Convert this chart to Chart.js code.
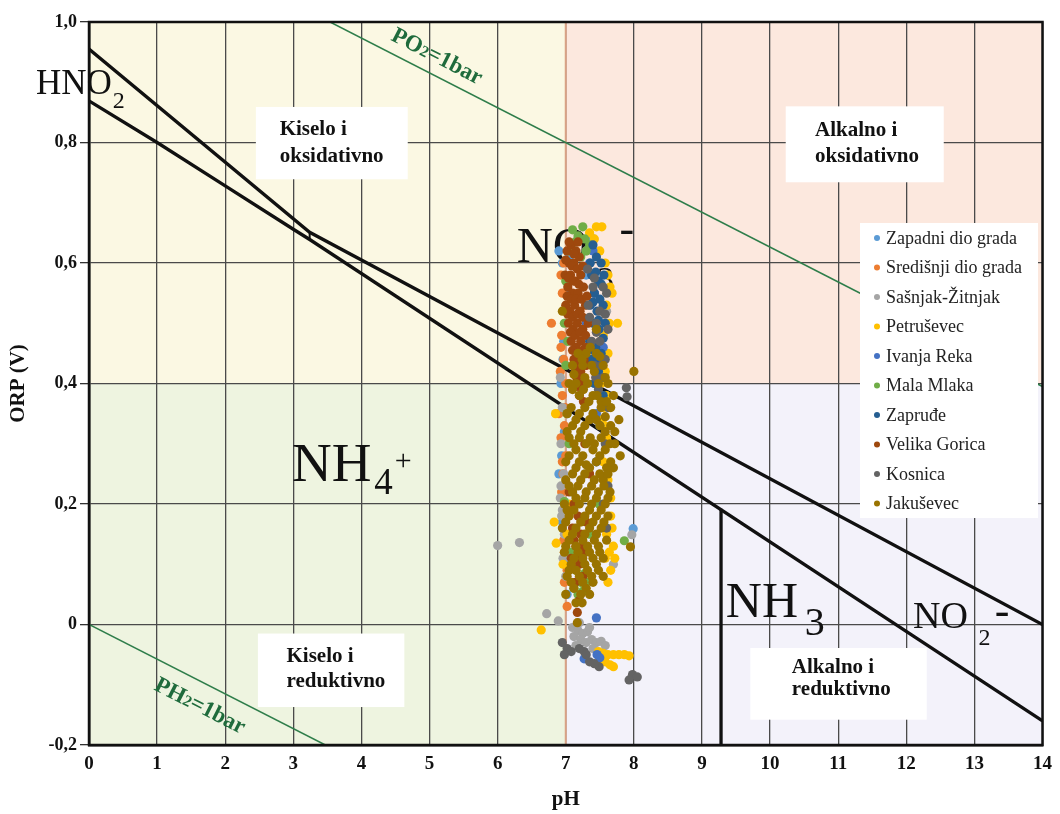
<!DOCTYPE html>
<html>
<head>
<meta charset="utf-8">
<script src="https://cdn.jsdelivr.net/npm/chart.js@4.4.0/dist/chart.umd.min.js"></script>
<style>
  body { margin: 0; background: #fff; }
  #wrap { width: 1060px; height: 814px; }
</style>
</head>
<body>
<div id="wrap"><canvas id="myChart"></canvas></div>
<script>
// series (legend order) and their colours
const seriesNames = ['Zapadni dio grada', 'Središnji dio grada', 'Sašnjak-Žitnjak', 'Petruševec', 'Ivanja Reka',
  'Mala Mlaka', 'Zapruđe', 'Velika Gorica', 'Kosnica', 'Jakuševec'];
const seriesColors = ['#5B9BD5', '#ED7D31', '#A5A5A5', '#FFC000', '#4472C4',
  '#70AD47', '#255E91', '#9E480E', '#636363', '#997300'];

// measured points, [pH, ORP in V]
const zapadni = [[6.90,0.62],[6.95,0.60],[7.00,0.55],[6.97,0.47],[6.93,0.40],[6.98,0.32],[6.90,0.25],
  [6.95,0.17],[7.99,0.159],[7.02,0.05],[7.30,0.58],[6.98,0.10],[6.96,0.44],[6.94,0.28],[7.05,0.61],
  [7.40,0.64]];
const sredisnji = [[6.97,0.60],[6.95,0.55],[7.00,0.52],[6.79,0.50],[6.93,0.46],[6.97,0.44],[6.92,0.42],
  [7.00,0.40],[6.95,0.38],[6.90,0.35],[6.98,0.33],[6.93,0.31],[7.00,0.28],[6.96,0.25],[6.94,0.22],
  [7.00,0.19],[6.97,0.14],[7.02,0.09],[6.98,0.07],[7.02,0.03],[7.05,0.57],[6.94,0.48],[6.99,0.36],
  [6.95,0.27],[6.98,0.12],[7.03,0.62],[6.93,0.58]];
const sasnjak = [[7.30,0.62],[7.25,0.56],[6.92,0.41],[6.95,0.36],[6.93,0.30],[6.97,0.25],[6.92,0.21],
  [6.94,0.18],[6.98,0.15],[6.96,0.11],[7.00,0.08],[6.00,0.131],[6.32,0.136],[6.72,0.018],[6.89,0.006],
  [7.97,0.149],[7.10,-0.005],[7.18,-0.01],[7.25,-0.015],[7.32,-0.012],[7.12,-0.02],[7.22,-0.025],
  [7.30,-0.03],[7.38,-0.025],[7.45,-0.03],[7.52,-0.028],[7.15,-0.035],[7.40,-0.04],[7.58,-0.035],
  [7.60,0.52],[7.70,0.10],[6.93,0.23],[6.95,0.19],[7.20,0.003],[7.35,-0.005]];
const petrusevec = [[7.45,0.66],[7.53,0.66],[7.35,0.65],[7.42,0.64],[7.50,0.62],[7.58,0.60],[7.62,0.58],
  [7.65,0.56],[7.60,0.53],[7.68,0.55],[7.76,0.50],[7.55,0.48],[7.62,0.45],[7.58,0.42],[7.52,0.40],
  [7.56,0.36],[7.50,0.34],[6.85,0.35],[7.60,0.31],[7.55,0.27],[7.62,0.24],[7.56,0.20],[7.66,0.18],
  [7.60,0.15],[7.70,0.13],[7.58,0.11],[7.66,0.09],[7.62,0.07],[6.83,0.17],[6.86,0.135],[7.05,0.20],
  [7.02,0.15],[6.64,-0.009],[7.48,-0.045],[7.55,-0.048],[7.62,-0.05],[7.70,-0.05],[7.78,-0.05],
  [7.86,-0.05],[7.93,-0.052],[7.52,-0.06],[7.58,-0.062],[7.65,-0.067],[7.70,-0.07],[7.64,0.50],
  [7.60,0.38],[7.66,0.21],[7.68,0.16],[7.64,0.12],[7.72,0.11],[7.57,0.33],[6.96,0.10]];
const ivanjaReka = [[7.45,0.011],[7.27,-0.057],[7.46,-0.05],[7.50,-0.055],[7.35,0.60],[7.42,0.55],
  [7.30,0.50],[7.55,0.46],[7.40,0.62],[7.45,0.35]];
const malaMlaka = [[7.10,0.655],[7.18,0.645],[7.28,0.64],[7.35,0.63],[7.05,0.62],[7.22,0.61],[7.00,0.57],
  [6.98,0.50],[7.00,0.43],[7.05,0.30],[6.98,0.204],[7.49,0.20],[7.10,0.22],[7.06,0.12],[7.15,0.09],
  [7.22,0.07],[7.28,0.085],[7.12,0.06],[7.25,0.055],[7.86,0.139],[7.35,0.15],[7.02,0.35],[7.14,0.635],
  [7.25,0.66],[7.30,0.62],[7.03,0.47],[7.18,0.05],[7.30,0.07]];
const zaprude = [[7.40,0.63],[7.45,0.61],[7.52,0.60],[7.38,0.58],[7.48,0.57],[7.56,0.58],[7.42,0.55],
  [7.50,0.54],[7.36,0.53],[7.46,0.52],[7.55,0.53],[7.40,0.50],[7.49,0.49],[7.58,0.50],[7.35,0.47],
  [7.44,0.46],[7.52,0.45],[7.38,0.44],[7.48,0.42],[7.42,0.40],[7.55,0.38],[7.50,0.33],[7.45,0.27],
  [7.36,0.60],[7.44,0.585],[7.52,0.565],[7.40,0.535],[7.48,0.505],[7.55,0.475],[7.40,0.455],
  [7.47,0.44]];
const velikaGorica = [[7.02,0.62],[7.08,0.63],[7.15,0.62],[7.05,0.60],[7.12,0.60],[7.20,0.61],[6.99,0.58],
  [7.07,0.58],[7.14,0.57],[7.22,0.58],[7.03,0.56],[7.10,0.55],[7.18,0.55],[7.26,0.56],[7.00,0.53],
  [7.06,0.52],[7.13,0.53],[7.21,0.52],[7.29,0.53],[7.04,0.50],[7.11,0.49],[7.17,0.50],[7.25,0.49],
  [7.33,0.50],[7.08,0.47],[7.15,0.46],[7.22,0.47],[7.30,0.46],[7.12,0.44],[7.19,0.43],[7.27,0.44],
  [7.16,0.41],[7.24,0.40],[7.20,0.38],[7.05,0.22],[7.12,0.20],[7.18,0.18],[7.10,0.16],[7.22,0.15],
  [7.15,0.13],[7.28,0.12],[7.08,0.11],[7.20,0.10],[7.30,0.17],[7.25,0.08],[7.14,0.07],[7.20,0.04],
  [7.17,0.02],[7.35,0.25],[7.28,0.30],[7.05,0.635],[7.12,0.615],[7.18,0.635],[7.00,0.605],
  [7.09,0.595],[7.17,0.59],[7.25,0.595],[7.04,0.575],[7.11,0.57],[7.19,0.565],[7.02,0.545],
  [7.08,0.54],[7.15,0.54],[7.23,0.54],[7.31,0.545],[7.03,0.515],[7.10,0.51],[7.17,0.515],
  [7.25,0.51],[7.07,0.485],[7.14,0.48],[7.21,0.485],[7.29,0.48],[7.10,0.455],[7.18,0.45],[7.25,0.455],
  [7.14,0.425],[7.22,0.42],[7.30,0.43],[7.18,0.395],[7.26,0.37],[7.12,0.14],[7.25,0.13],[7.17,0.11]];
const kosnica = [[7.32,0.59],[7.40,0.56],[7.55,0.56],[7.60,0.55],[7.35,0.51],[7.45,0.50],[7.62,0.49],
  [7.38,0.47],[7.50,0.47],[7.58,0.44],[7.42,0.43],[7.55,0.41],[7.48,0.39],[7.62,0.36],[7.89,0.393],
  [7.90,0.378],[7.58,0.30],[7.60,0.16],[7.55,0.20],[7.62,0.23],[6.95,-0.03],[7.02,-0.04],[7.08,-0.045],
  [6.98,-0.05],[7.20,-0.04],[7.27,-0.045],[7.30,-0.05],[7.35,-0.062],[7.49,-0.07],[7.42,-0.065],
  [7.98,-0.083],[8.05,-0.087],[7.93,-0.092],[7.42,0.575],[7.50,0.52],[7.33,0.53],[7.45,0.485],
  [7.58,0.515],[7.52,0.43],[7.44,0.41]];
const jakusevec = [[7.18,0.45],[7.30,0.45],[7.45,0.45],[7.10,0.43],[7.25,0.43],[7.38,0.43],[7.55,0.43],
  [8.00,0.42],[7.05,0.40],[7.15,0.40],[7.32,0.40],[7.48,0.40],[7.62,0.40],[7.20,0.38],[7.40,0.38],
  [7.70,0.38],[7.08,0.36],[7.28,0.36],[7.52,0.36],[7.66,0.36],[7.15,0.34],[7.35,0.34],[7.45,0.34],
  [7.78,0.34],[7.02,0.32],[7.22,0.32],[7.58,0.32],[7.72,0.32],[7.12,0.30],[7.30,0.30],[7.42,0.30],
  [7.65,0.30],[7.05,0.28],[7.25,0.28],[7.50,0.28],[7.80,0.28],[7.15,0.26],[7.35,0.26],[7.60,0.26],
  [7.70,0.26],[7.00,0.24],[7.22,0.24],[7.42,0.24],[7.55,0.24],[7.10,0.22],[7.30,0.22],[7.48,0.22],
  [7.65,0.22],[6.98,0.20],[7.20,0.20],[7.38,0.20],[7.58,0.20],[7.05,0.18],[7.28,0.18],[7.45,0.18],
  [7.62,0.18],[6.95,0.16],[7.15,0.16],[7.35,0.16],[7.52,0.16],[7.05,0.14],[7.25,0.14],[7.42,0.14],
  [7.60,0.14],[6.98,0.12],[7.18,0.12],[7.35,0.12],[7.50,0.12],[7.08,0.10],[7.28,0.10],[7.45,0.10],
  [7.02,0.08],[7.20,0.08],[7.38,0.08],[7.55,0.08],[7.12,0.06],[7.30,0.06],[7.00,0.05],[7.15,0.036],
  [7.24,0.036],[7.17,0.003],[7.95,0.129],[6.95,0.52],[7.45,0.49],[7.52,0.37],
  [7.24,0.44],[7.36,0.46],[7.50,0.445],[7.12,0.415],[7.28,0.41],[7.42,0.42],[7.58,0.41],[7.10,0.39],
  [7.26,0.39],[7.34,0.37],[7.46,0.38],[7.60,0.37],[7.02,0.35],[7.20,0.35],[7.40,0.35],[7.58,0.345],
  [7.10,0.33],[7.28,0.33],[7.50,0.33],[7.66,0.33],[7.05,0.31],[7.20,0.31],[7.36,0.31],[7.52,0.31],
  [7.72,0.30],[7.15,0.29],[7.40,0.29],[7.58,0.29],[7.00,0.27],[7.20,0.27],[7.30,0.265],[7.45,0.27],
  [7.66,0.27],[7.10,0.25],[7.28,0.25],[7.50,0.25],[7.62,0.25],[7.05,0.23],[7.18,0.23],[7.38,0.23],
  [7.56,0.23],[7.15,0.21],[7.28,0.21],[7.45,0.21],[7.62,0.21],[7.02,0.19],[7.12,0.19],[7.35,0.19],
  [7.52,0.19],[7.00,0.17],[7.22,0.17],[7.40,0.17],[7.56,0.17],[7.10,0.15],[7.28,0.15],[7.45,0.15],
  [7.00,0.13],[7.15,0.13],[7.32,0.13],[7.48,0.13],[7.12,0.11],[7.25,0.11],[7.40,0.11],[7.55,0.11],
  [7.05,0.09],[7.15,0.09],[7.32,0.09],[7.48,0.09],[7.08,0.07],[7.25,0.07],[7.40,0.07],[7.22,0.05],
  [7.35,0.05]];
const seriesData = [zapadni, sredisnji, sasnjak, petrusevec, ivanjaReka,
  malaMlaka, zaprude, velikaGorica, kosnica, jakusevec];

// boundary lines of the diagram, [pH, ORP]
const lineHNO2Upper = [[0,0.955],[3.24,0.651],[14,0.0]];
const lineHNO2Lower = [[0,0.869],[1,0.80],[2,0.728],[3,0.656],[3.24,0.639],[14,-0.16]];
const lineJoin = [[3.24,0.651],[3.24,0.639]];
const lineNH3 = [[9.28,0.192],[9.28,-0.2]];
const lineO2 = [[3.54,1.0],[14,0.395]];
const lineH2 = [[0,0],[3.47,-0.2]];

const yTickLabels = ['-0,2', '0', '0,2', '0,4', '0,6', '0,8', '1,0'];

const SERIF = '"Liberation Serif", "Times New Roman", serif';

// background quadrants
const quadrants = [
  { x0: 0, x1: 7, y0: 0.4, y1: 1.0, color: '#FBF8E3' },
  { x0: 7, x1: 14, y0: 0.4, y1: 1.0, color: '#FCE8DE' },
  { x0: 0, x1: 7, y0: -0.2, y1: 0.4, color: '#EEF4E0' },
  { x0: 7, x1: 14, y0: -0.2, y1: 0.4, color: '#F3F2FA' }
];

// white boxes with region names
const regionBoxes = [
  { x0: 2.45, x1: 4.68, y0: 0.739, y1: 0.859, tx: 2.8, lines: [['Kiselo i', 0.812], ['oksidativno', 0.768]] },
  { x0: 10.23, x1: 12.55, y0: 0.734, y1: 0.86, tx: 10.66, lines: [['Alkalno i', 0.81], ['oksidativno', 0.768]] },
  { x0: 2.48, x1: 4.63, y0: -0.137, y1: -0.015, tx: 2.9, lines: [['Kiselo i', -0.063], ['reduktivno', -0.103]] },
  { x0: 9.71, x1: 12.3, y0: -0.158, y1: -0.039, tx: 10.32, lines: [['Alkalno i', -0.08], ['reduktivno', -0.117]] }
];

// chemical species labels
const speciesLabels = [
  { t: 'HNO', x: -0.78, y: 0.881, s: 35 },
  { t: '2', x: 0.35, y: 0.858, s: 24 },
  { t: 'NO', x: 6.28, y: 0.601, s: 50 },
  { t: '3', x: 7.46, y: 0.556, s: 34 },
  { t: '-', x: 7.79, y: 0.634, s: 44 },
  { t: 'NH', x: 2.98, y: 0.239, s: 55 },
  { t: '4', x: 4.19, y: 0.216, s: 37 },
  { t: '+', x: 4.49, y: 0.257, s: 30 },
  { t: 'NH', x: 9.35, y: 0.013, s: 50 },
  { t: '3', x: 10.51, y: -0.017, s: 40 },
  { t: 'NO', x: 12.1, y: -0.005, s: 38 },
  { t: '2', x: 13.06, y: -0.034, s: 24 },
  { t: '-', x: 13.3, y: 0.0, s: 44 }
];

const gasLabels = [
  { parts: [['PO', 23], ['2', 16], ['=1bar', 23]], x: 5.12, y: 0.945, line: lineO2 },
  { parts: [['PH', 23], ['2', 16], ['=1bar', 23]], x: 1.64, y: -0.133, line: lineH2 }
];

const legendBox = { left: 860, top: 223, width: 178, height: 295, row: 29.5 };

const diagramPlugin = {
  id: 'diagram',
  beforeDraw(chart) {
    const ctx = chart.ctx, xs = chart.scales.x, ys = chart.scales.y;
    ctx.save();
    ctx.fillStyle = '#fff';
    ctx.fillRect(0, 0, chart.width, chart.height);
    quadrants.forEach(q => {
      const a = xs.getPixelForValue(q.x0), b = xs.getPixelForValue(q.x1);
      const c = ys.getPixelForValue(q.y1), d = ys.getPixelForValue(q.y0);
      ctx.fillStyle = q.color;
      ctx.fillRect(a, c, b - a, d - c);
    });
    ctx.restore();
  },
  beforeDatasetsDraw(chart) {
    const ctx = chart.ctx, xs = chart.scales.x, ys = chart.scales.y;
    const area = chart.chartArea;
    ctx.save();
    // pH 7 boundary
    ctx.strokeStyle = '#D9A285';
    ctx.lineWidth = 2;
    ctx.beginPath();
    ctx.moveTo(xs.getPixelForValue(7), area.top);
    ctx.lineTo(xs.getPixelForValue(7), area.bottom);
    ctx.stroke();

    // region boxes
    regionBoxes.forEach(b => {
      const a = xs.getPixelForValue(b.x0), r = xs.getPixelForValue(b.x1);
      const t = ys.getPixelForValue(b.y1), bt = ys.getPixelForValue(b.y0);
      ctx.fillStyle = '#fff';
      ctx.fillRect(a, t, r - a, bt - t);
      ctx.fillStyle = '#111';
      ctx.font = 'bold 21px ' + SERIF;
      ctx.textAlign = 'left';
      ctx.textBaseline = 'alphabetic';
      b.lines.forEach(l => ctx.fillText(l[0], xs.getPixelForValue(b.tx), ys.getPixelForValue(l[1])));
    });

    // species
    ctx.fillStyle = '#111';
    ctx.textAlign = 'left';
    ctx.textBaseline = 'alphabetic';
    speciesLabels.forEach(l => {
      ctx.font = l.s + 'px ' + SERIF;
      ctx.fillText(l.t, xs.getPixelForValue(l.x), ys.getPixelForValue(l.y));
    });

    // gas labels along green lines
    gasLabels.forEach(g => {
      const p1x = xs.getPixelForValue(g.line[0][0]), p1y = ys.getPixelForValue(g.line[0][1]);
      const p2x = xs.getPixelForValue(g.line[1][0]), p2y = ys.getPixelForValue(g.line[1][1]);
      const ang = Math.atan2(p2y - p1y, p2x - p1x);
      let w = 0;
      g.parts.forEach(p => { ctx.font = 'bold ' + p[1] + 'px ' + SERIF; w += ctx.measureText(p[0]).width; });
      ctx.save();
      ctx.translate(xs.getPixelForValue(g.x), ys.getPixelForValue(g.y));
      ctx.rotate(ang);
      ctx.fillStyle = '#1F6B3C';
      let cx = -w / 2;
      g.parts.forEach(p => {
        ctx.font = 'bold ' + p[1] + 'px ' + SERIF;
        ctx.fillText(p[0], cx, 8);
        cx += ctx.measureText(p[0]).width;
      });
      ctx.restore();
    });
    ctx.restore();
  },
  afterDatasetsDraw(chart) {
    const ctx = chart.ctx, a = chart.chartArea;
    ctx.save();
    ctx.strokeStyle = '#111';
    ctx.lineWidth = 2.5;
    ctx.strokeRect(a.left, a.top, a.right - a.left, a.bottom - a.top);
    ctx.restore();
  },
  afterDraw(chart) {
    const ctx = chart.ctx, L = legendBox;
    ctx.save();
    ctx.fillStyle = '#fff';
    ctx.fillRect(L.left, L.top, L.width, L.height);
    ctx.font = '18px ' + SERIF;
    ctx.textBaseline = 'middle';
    ctx.textAlign = 'left';
    seriesNames.forEach((n, i) => {
      const y = L.top + 15 + i * L.row;
      ctx.fillStyle = seriesColors[i];
      ctx.beginPath();
      ctx.arc(L.left + 17, y, 3, 0, Math.PI * 2);
      ctx.fill();
      ctx.fillStyle = '#222';
      ctx.fillText(n, L.left + 26, y + 1);
    });
    ctx.restore();
  }
};

const toXY = arr => arr.map(p => ({ x: p[0], y: p[1] }));

const datasets = seriesData.map((d, i) => ({
  label: seriesNames[i],
  data: toXY(d),
  backgroundColor: seriesColors[i],
  borderColor: seriesColors[i],
  borderWidth: 0,
  pointRadius: 4.6,
  pointHoverRadius: 4.6,
  order: 9 - i
}));

function boundary(data, color, width) {
  return { data: toXY(data), showLine: true, borderColor: color, borderWidth: width,
    pointRadius: 0, fill: false, order: 20 };
}
datasets.push(boundary(lineHNO2Upper, '#111', 3.3));
datasets.push(boundary(lineHNO2Lower, '#111', 3.3));
datasets.push(boundary(lineJoin, '#111', 2));
datasets.push(boundary(lineNH3, '#111', 3.3));
datasets.push(boundary(lineO2, '#2E7D4A', 1.5));
datasets.push(boundary(lineH2, '#2E7D4A', 1.5));

const ctx = document.getElementById('myChart').getContext('2d');
window.myChart = new Chart(ctx, {
  type: 'scatter',
  data: { datasets },
  plugins: [diagramPlugin],
  options: {
    responsive: true,
    maintainAspectRatio: false,
    animation: false,
    layout: { padding: { left: 0, top: 22, right: 15, bottom: 0 } },
    plugins: { legend: { display: false }, tooltip: { enabled: false } },
    scales: {
      x: {
        type: 'linear',
        position: 'bottom',
        min: 0,
        max: 14,
        afterFit: s => { s.height = 69; },
        ticks: { stepSize: 1, color: '#111', padding: 8, font: { family: SERIF, size: 19, weight: 'bold' } },
        grid: { color: '#4a4a4a', lineWidth: 1.3, drawTicks: false },
        border: { display: true, color: '#111', width: 2.5 },
        title: { display: true, text: 'pH', color: '#111', padding: { top: 2, bottom: 2 },
          font: { family: SERIF, size: 21, weight: 'bold' } }
      },
      y: {
        type: 'linear',
        position: 'left',
        min: -0.2,
        max: 1.0,
        afterFit: s => { s.width = 89; },
        ticks: {
          stepSize: 0.2, color: '#111', padding: 3,
          font: { family: SERIF, size: 18, weight: 'bold' },
          callback: (v, i) => yTickLabels[i]
        },
        grid: { color: '#4a4a4a', lineWidth: 1.3, tickLength: 9, tickColor: '#333' },
        border: { display: true, color: '#111', width: 2.5 },
        title: { display: true, text: 'ORP (V)', color: '#111', padding: { top: 6, bottom: 6 },
          font: { family: SERIF, size: 21, weight: 'bold' } }
      }
    }
  }
});
</script>
</body>
</html>
